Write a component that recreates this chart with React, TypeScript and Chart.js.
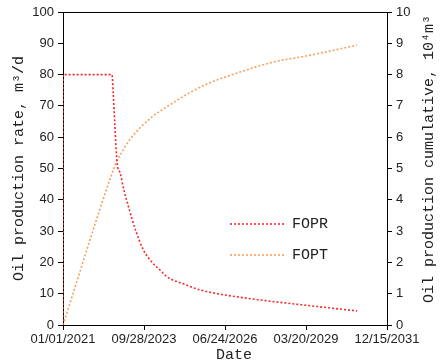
import React, { useEffect, useRef } from "react";
import { Chart, registerables } from "chart.js";

Chart.register(...registerables);

// Days since 01/01/2021
const foprDays = [0, 0.5, 605, 620, 640, 667, 704, 753, 806, 900, 992, 1100, 1200, 1284, 1500, 1692, 2000, 2500, 3000, 3630];
const foprRate = [0, 80, 80, 74, 64, 52, 48.7, 43, 38, 30, 24, 20, 17.5, 15.4, 13, 11.2, 9.6, 7.8, 6.3, 4.5];

const foptDays = [0, 605, 667, 750, 827, 951, 1100, 1359, 1550, 1778, 2186, 2594, 3013, 3630];
const foptCum = [0, 4.84, 5.25, 5.62, 5.93, 6.3, 6.65, 7.1, 7.4, 7.7, 8.08, 8.4, 8.6, 8.94];

const xTickDays = [0, 1000, 2000, 3000, 4000];
const seriesNames = ["FOPR", "FOPT"];
const seriesColors = ["#f52a2a", "#f7a15e"];

const leftTitle = "Oil production rate, m³/d";
const rightTitle = "Oil production cumulative, 10⁴m³";
const bottomTitle = "Date";

const START = Date.UTC(2021, 0, 1);
function fmtDate(d: number): string {
  const dt = new Date(START + d * 86400000);
  const mm = String(dt.getUTCMonth() + 1).padStart(2, "0");
  const dd = String(dt.getUTCDate()).padStart(2, "0");
  return `${mm}/${dd}/${dt.getUTCFullYear()}`;
}

const TITLE_FONT = "15px 'Liberation Mono', 'DejaVu Sans Mono', monospace";
const TEXT_COLOR = "#222";

const decorPlugin = {
  id: "decor",
  afterDraw(chart: any) {
    const { ctx, chartArea } = chart;
    const { left, right, top, bottom } = chartArea;
    ctx.save();
    ctx.strokeStyle = "#000";
    ctx.lineWidth = 1;
    ctx.beginPath();
    ctx.moveTo(left, top + 0.5);
    ctx.lineTo(right, top + 0.5);
    ctx.stroke();

    ctx.fillStyle = TEXT_COLOR;
    ctx.font = TITLE_FONT;
    ctx.textAlign = "center";
    ctx.textBaseline = "middle";
    ctx.fillText(bottomTitle, 234, 355);

    ctx.save();
    ctx.translate(19, (top + bottom) / 2);
    ctx.rotate(-Math.PI / 2);
    ctx.fillText(leftTitle, 0, 0);
    ctx.restore();

    ctx.save();
    ctx.translate(429, 159);
    ctx.rotate(-Math.PI / 2);
    ctx.fillText(rightTitle, 0, 0);
    ctx.restore();

    const legendY = [224, 255];
    seriesNames.forEach((name, i) => {
      const y = legendY[i];
      ctx.strokeStyle = seriesColors[i];
      ctx.lineWidth = 1.6;
      ctx.setLineDash([2, 2]);
      ctx.beginPath();
      ctx.moveTo(230, y);
      ctx.lineTo(285, y);
      ctx.stroke();
      ctx.setLineDash([]);
      ctx.fillStyle = TEXT_COLOR;
      ctx.textAlign = "left";
      ctx.fillText(name, 292, y);
    });
    ctx.restore();
  },
};

export default function App() {
  const ref = useRef<HTMLCanvasElement>(null);
  useEffect(() => {
    if (!ref.current) return;
    const tickFont = { family: "'Liberation Sans', Arial, sans-serif", size: 13 };
    const yTickFont = { family: "'Liberation Sans Narrow', 'Liberation Sans', Arial, sans-serif", size: 13 };
    const chart = new Chart(ref.current, {
      type: "line",
      data: {
        datasets: [
          {
            label: seriesNames[0],
            data: foprDays.map((d, i) => ({ x: d, y: foprRate[i] })),
            borderColor: seriesColors[0],
            borderWidth: 1.6,
            borderDash: [2, 2],
            pointRadius: 0,
            cubicInterpolationMode: "monotone",
            yAxisID: "y",
          },
          {
            label: seriesNames[1],
            data: foptDays.map((d, i) => ({ x: d, y: foptCum[i] })),
            borderColor: seriesColors[1],
            borderWidth: 1.6,
            borderDash: [2, 2],
            pointRadius: 0,
            cubicInterpolationMode: "monotone",
            yAxisID: "y1",
          },
        ],
      },
      options: {
        animation: false,
        responsive: false,
        devicePixelRatio: 1,
        layout: { padding: { top: 12, left: 0, right: 0, bottom: 0 } },
        plugins: { legend: { display: false }, tooltip: { enabled: false } },
        scales: {
          x: {
            type: "linear",
            min: 0,
            max: 4000,
            afterBuildTicks: (s: any) => {
              s.ticks = xTickDays.map((v) => ({ value: v }));
            },
            ticks: {
              callback: (v: any) => fmtDate(Number(v)),
              font: tickFont,
              color: TEXT_COLOR,
              maxRotation: 0,
              autoSkip: false,
              padding: 2,
            },
            grid: { drawOnChartArea: false, drawTicks: true, tickLength: 5, color: "#000" },
            border: { color: "#000", width: 1 },
            afterFit: (s: any) => {
              s.height = 39;
            },
          },
          y: {
            position: "left",
            min: 0,
            max: 100,
            ticks: { stepSize: 10, font: yTickFont, color: TEXT_COLOR, padding: 4 },
            grid: { drawOnChartArea: false, drawTicks: true, tickLength: 5, color: "#000" },
            border: { color: "#000", width: 1 },
            afterFit: (s: any) => {
              s.width = 63;
            },
          },
          y1: {
            position: "right",
            min: 0,
            max: 10,
            ticks: { stepSize: 1, font: yTickFont, color: TEXT_COLOR, padding: 4 },
            grid: { drawOnChartArea: false, drawTicks: true, tickLength: 5, color: "#000" },
            border: { color: "#000", width: 1 },
            afterFit: (s: any) => {
              s.width = 53;
            },
          },
        },
      },
      plugins: [decorPlugin],
    } as any);
    return () => chart.destroy();
  }, []);
  return (
    <div style={{ position: "fixed", left: 0, top: 0, width: 440, height: 364, background: "#fff" }}>
      <canvas ref={ref} width={440} height={364} style={{ width: 440, height: 364 }} />
    </div>
  );
}
